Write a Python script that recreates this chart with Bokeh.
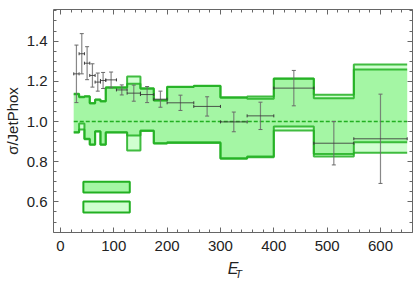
from bokeh.plotting import figure
from bokeh.models import (Range1d, LinearAxis, SingleIntervalTicker, FixedTicker, Whisker, TeeHead,
                          ColumnDataSource, PrintfTickFormatter)
from bokeh.embed import file_html
from bokeh.resources import INLINE

# ---- data ----
edges = [25, 35, 45, 55, 65, 75, 85, 105, 125, 150, 175, 200, 250, 300, 350, 400, 475, 550, 650]

# inner (darker) band
band1_hi = [1.136, 1.121, 1.124, 1.090, 1.108, 1.100, 1.168, 1.168, 1.188, 1.163, 1.104, 1.171,
            1.176, 1.118, 1.113, 1.212, 1.116, 1.259]
band1_lo = [0.947, 0.990, 0.914, 0.886, 0.952, 0.886, 0.947, 0.947, 0.930, 0.955, 0.892, 0.897,
            0.897, 0.817, 0.826, 0.975, 0.839, 0.897]
# outer (lighter) band
band2_hi = [1.138, 1.123, 1.126, 1.092, 1.110, 1.102, 1.170, 1.170, 1.224, 1.165, 1.106, 1.173,
            1.178, 1.120, 1.124, 1.214, 1.133, 1.284]
band2_lo = [0.945, 0.960, 0.912, 0.884, 0.950, 0.884, 0.945, 0.945, 0.856, 0.953, 0.890, 0.893,
            0.893, 0.815, 0.822, 0.955, 0.826, 0.844]

# data / JetPhox ratio
pt_y = [1.237, 1.337, 1.290, 1.229, 1.196, 1.204, 1.207, 1.157, 1.141, 1.134, 1.111, 1.093,
        1.075, 0.998, 1.028, 1.166, 0.892, 0.914]
pt_err = [0.143, 0.100, 0.082, 0.058, 0.045, 0.040, 0.039, 0.025, 0.040, 0.040, 0.040, 0.038,
          0.048, 0.049, 0.068, 0.088, 0.108, 0.222]

x_ticks_interval = 100
y_ticks_interval = 0.2

# ---- styles / positions ----
GREEN = "#22b022"
FILL_DARK = "#a4f6a4"
FILL_LIGHT = "#d0ffd0"
FONT = "Liberation Sans"
TXT = "#222222"
LEG_X = (43, 130)
LEG_Y1 = (0.647, 0.700)
LEG_Y2 = (0.547, 0.602)

p = figure(frame_width=359, frame_height=223, min_border_left=53, min_border_right=3,
           min_border_top=9, min_border_bottom=52, output_backend="svg",
           toolbar_location=None, x_range=Range1d(-13, 660), y_range=Range1d(0.448, 1.557))
p.xgrid.visible = False
p.ygrid.visible = False
p.outline_line_color = None
xb = p.below[0]
yl = p.left[0]


def step_vals(v):
    return list(v) + [v[-1]]


# bands
p.varea_step(x=edges, y1=step_vals(band2_lo), y2=step_vals(band2_hi), step_mode="after",
             fill_color=FILL_LIGHT)
p.varea_step(x=edges, y1=step_vals(band1_lo), y2=step_vals(band1_hi), step_mode="after",
             fill_color=FILL_DARK)
for arr in (band2_hi, band2_lo, band1_hi, band1_lo):
    p.step(x=edges, y=step_vals(arr), mode="after", line_color=GREEN, line_width=2, line_alpha=0.85)

p.line(x=[edges[0], edges[-1]], y=[1.0, 1.0], line_color=GREEN, line_dash="4 2", line_width=1.3)

# legend keys
p.quad(left=[LEG_X[0]], right=[LEG_X[1]], bottom=[LEG_Y1[0]], top=[LEG_Y1[1]],
       fill_color=FILL_DARK, line_color=GREEN, line_width=2)
p.quad(left=[LEG_X[0]], right=[LEG_X[1]], bottom=[LEG_Y2[0]], top=[LEG_Y2[1]],
       fill_color=FILL_LIGHT, line_color=GREEN, line_width=2)

# error bars
xc = [(a + b) / 2 for a, b in zip(edges[:-1], edges[1:])]
src = ColumnDataSource(dict(x=xc, xlo=edges[:-1], xhi=edges[1:], y=pt_y,
                            ylo=[y - e for y, e in zip(pt_y, pt_err)],
                            yhi=[y + e for y, e in zip(pt_y, pt_err)]))
wv = Whisker(source=src, base="x", lower="ylo", upper="yhi", dimension="height", level="overlay",
             line_color="#6a6a6a", line_width=1.2, line_alpha=0.8,
             lower_head=TeeHead(size=4, line_color="#6a6a6a", line_width=1),
             upper_head=TeeHead(size=4, line_color="#6a6a6a", line_width=1))
wh = Whisker(source=src, base="y", lower="xlo", upper="xhi", dimension="width", level="overlay",
             line_color="#3a3a3a", line_width=1, line_alpha=0.85,
             lower_head=TeeHead(size=3, line_color="#3a3a3a", line_width=1),
             upper_head=TeeHead(size=3, line_color="#3a3a3a", line_width=1))
p.add_layout(wv)
p.add_layout(wh)

# axes (frame with inward ticks on all sides)
xt = SingleIntervalTicker(interval=x_ticks_interval, num_minor_ticks=5)
yt = SingleIntervalTicker(interval=y_ticks_interval, num_minor_ticks=4)
top = LinearAxis(ticker=xt)
right = LinearAxis(ticker=yt)
p.add_layout(top, "above")
p.add_layout(right, "right")
xb.ticker = xt
yl.ticker = yt
yl.formatter = PrintfTickFormatter(format="%.1f")

for ax in [xb, yl, top, right]:
    ax.axis_line_color = "#666666"
    ax.axis_line_width = 1
    ax.major_tick_line_color = "#666666"
    ax.minor_tick_line_color = "#666666"
    ax.major_tick_in = 5
    ax.major_tick_out = 0
    ax.minor_tick_in = 3
    ax.minor_tick_out = 0
    ax.major_label_text_font = FONT
    ax.major_label_text_font_size = "15px"
    ax.major_label_text_color = TXT

for ax in [top, right]:
    ax.major_label_text_font_size = "0px"
    ax.major_label_text_color = None
    ax.major_label_text_alpha = 0
    ax.major_label_standoff = 0

xb.major_label_standoff = 8
yl.major_label_standoff = 6
yl.axis_label = "σ/JetPhox"
yl.axis_label_text_font = FONT
yl.axis_label_text_font_size = "15px"
yl.axis_label_text_font_style = "normal"
yl.axis_label_text_color = TXT
yl.axis_label_standoff = 3

# x label: E with subscript T
xb.axis_label = "E"
xb.axis_label_text_font = FONT
xb.axis_label_text_font_size = "16px"
xb.axis_label_text_font_style = "italic"
xb.axis_label_text_color = TXT
xb.axis_label_standoff = 6

sub = LinearAxis(ticker=FixedTicker(ticks=[]), axis_label="\u2002\u2002T")
sub.axis_line_color = None
sub.major_tick_line_color = None
sub.minor_tick_line_color = None
sub.major_tick_out = 0
sub.major_label_text_color = None
sub.axis_label_text_font = FONT
sub.axis_label_text_font_size = "11px"
sub.axis_label_text_font_style = "italic"
sub.axis_label_text_color = TXT
sub.axis_label_standoff = -12
p.add_layout(sub, "below")

open("out.html", "w").write(file_html(p, INLINE))
